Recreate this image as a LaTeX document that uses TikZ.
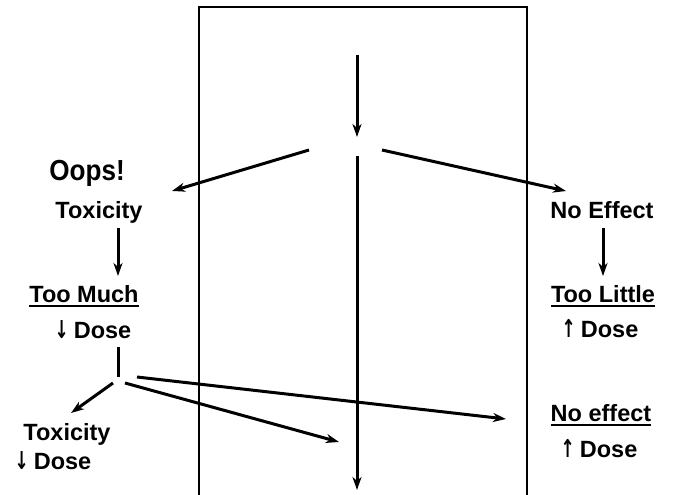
\documentclass[tikz,border=0pt]{standalone}
\usepackage{fontspec}
\setmainfont{Liberation Sans}
\newfontfamily\arrowfont{DejaVu Sans}
\usetikzlibrary{arrows.meta}
\newcommand\ulbox[1]{\setbox0\hbox{#1}\rlap{\rule[-5pt]{\wd0}{2pt}}\box0}
\newcommand\dn{{\arrowfont\scalebox{0.72}[1.05]{↓}}\hspace{5pt}}
\newcommand\up{{\arrowfont\scalebox{0.72}[1.05]{↑}}\hspace{5pt}}
\tikzset{
  lbl/.style={anchor=base, inner sep=0pt, font=\fontsize{23.5}{26}\selectfont\bfseries},
  big/.style={anchor=base, inner sep=0pt, font=\fontsize{29}{32}\selectfont\bfseries},
  link/.style={line width=3pt},
  flow/.style={line width=3pt, -{Stealth[length=13pt,width=9pt,inset=4pt]}},
  frame/.style={line width=1.5pt}
}
\begin{document}
\begin{tikzpicture}[x=1pt,y=-1pt]
\useasboundingbox (0,0) rectangle (675,495);
% central column
\draw[frame] (199,500) -- (199,7) -- (527,7) -- (527,500);

% coordinates of the branching paths
\coordinate (in0) at (357,55);
\coordinate (in1) at (357,137);
\coordinate (mainS) at (357,156);
\coordinate (mainE) at (357,490);
\coordinate (lS) at (309,150);
\coordinate (lE) at (172,191);
\coordinate (rS) at (382,150);
\coordinate (rE) at (566,191);
\coordinate (tmA) at (118,228);
\coordinate (tmB) at (118,276);
\coordinate (tlA) at (603,228);
\coordinate (tlB) at (603,276);
\coordinate (stemA) at (118,347);
\coordinate (stemB) at (118,377);
\coordinate (dlS) at (113,383);
\coordinate (dlE) at (71,413);
\coordinate (dmS) at (125,383);
\coordinate (dmE) at (339,442);
\coordinate (drS) at (137,377);
\coordinate (drE) at (506,419);

% labels
\node[big] (oops) at (87,180) {\scalebox{0.9}[1]{Oops!}};
\node[lbl] (tox1) at (99,218) {Toxicity};
\node[lbl] (much) at (84,302) {\ulbox{Too Much}};
\node[lbl] (dose1) at (93,338) {\dn Dose};
\node[lbl] (noeff1) at (602,218) {No Effect};
\node[lbl] (little) at (603,302) {\ulbox{Too Little}};
\node[lbl] (dose2) at (600,337) {\up Dose};
\node[lbl] (tox2) at (67,440) {Toxicity};
\node[lbl] (dose3) at (53,469) {\dn Dose};
\node[lbl] (noeff2) at (601,421) {\ulbox{No effect}};
\node[lbl] (dose4) at (599,457) {\up Dose};

% connectors
\draw[flow] (in0) -- (in1);
\draw[flow] (mainS) -- (mainE);
\draw[flow] (lS) -- (lE);
\draw[flow] (rS) -- (rE);
\draw[flow] (tmA) -- (tmB);
\draw[flow] (tlA) -- (tlB);
\draw[link] (stemA) -- (stemB);
\draw[flow] (dlS) -- (dlE);
\draw[flow] (dmS) -- (dmE);
\draw[flow] (drS) -- (drE);
\end{tikzpicture}
\end{document}
